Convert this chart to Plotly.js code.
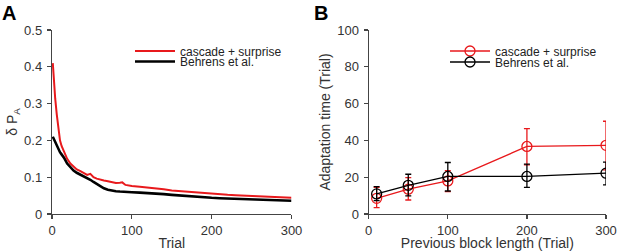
<!DOCTYPE html>
<html>
<head>
<meta charset="utf-8">
<script src="https://cdn.plot.ly/plotly-3.0.1.min.js"></script>
<style>html,body{margin:0;padding:0;background:#fff;}#chart{width:617px;height:251px;}</style>
</head>
<body>
<div id="chart"></div>
<script>
// Panel A: delta P_A vs trial
const trialsA = [1,2,4,6,8,10,12,15,19,23,27,31,35,40,44,48,52,56,60,65,70,75,80,85,88,92,96,100,110,120,130,140,150,160,170,180,190,200,210,220,230,240,250,260,270,280,290,300];
const cascadeA = [0.41,0.37,0.314,0.27,0.232,0.2,0.185,0.168,0.15,0.137,0.128,0.121,0.117,0.112,0.106,0.109,0.1,0.096,0.093,0.091,0.089,0.087,0.084,0.085,0.086,0.079,0.077,0.076,0.074,0.072,0.07,0.067,0.064,0.062,0.06,0.059,0.057,0.055,0.054,0.052,0.051,0.05,0.049,0.048,0.047,0.046,0.045,0.044];
const behrensA = [0.21,0.205,0.196,0.185,0.176,0.168,0.162,0.153,0.137,0.126,0.118,0.112,0.108,0.103,0.099,0.093,0.087,0.081,0.076,0.07,0.066,0.0635,0.062,0.061,0.061,0.06,0.059,0.059,0.058,0.057,0.055,0.054,0.052,0.05,0.049,0.047,0.045,0.044,0.043,0.042,0.041,0.04,0.039,0.038,0.038,0.037,0.037,0.036];

// Panel B: adaptation time vs previous block length
const blockLen = [10,50,100,200,300];
const cascadeB = [8.5,13.5,18,36.7,37.3];
const cascadeBUp = [6,6.3,5.5,9.7,13.1];
const cascadeBDown = [5,5.9,5.8,10,13.3];
const behrensB = [10.9,15.6,20.4,20.4,22.2];
const behrensBUp = [4,6,7.6,6.7,6];
const behrensBDown = [3.6,5.8,7.9,5.9,6.4];

const names = ['cascade + surprise','Behrens et al.'];
const RED = '#e8191c', BLK = '#000000';
const FONT = 'Liberation Sans, Arial, sans-serif';

const traces = [
  {x: trialsA, y: cascadeA, type:'scatter', mode:'lines', name:names[0], line:{color:RED,width:2}, xaxis:'x', yaxis:'y', legend:'legend'},
  {x: trialsA, y: behrensA, type:'scatter', mode:'lines', name:names[1], line:{color:BLK,width:2.6}, xaxis:'x', yaxis:'y', legend:'legend2'},
  {x: blockLen, y: cascadeB, type:'scatter', mode:'lines+markers', name:names[0],
   line:{color:RED,width:1.3}, marker:{symbol:'circle-open',size:10,color:RED,line:{width:1.3}},
   error_y:{type:'data',symmetric:false,array:cascadeBUp,arrayminus:cascadeBDown,color:RED,thickness:1.3,width:3},
   xaxis:'x2', yaxis:'y2', legend:'legend3'},
  {x: blockLen, y: behrensB, type:'scatter', mode:'lines+markers', name:names[1],
   line:{color:BLK,width:1.3}, marker:{symbol:'circle-open',size:10,color:BLK,line:{width:1.3}},
   error_y:{type:'data',symmetric:false,array:behrensBUp,arrayminus:behrensBDown,color:BLK,thickness:1.3,width:3},
   xaxis:'x2', yaxis:'y2', legend:'legend4'}
];

const axisCommon = {
  showgrid:false, zeroline:false, showline:true, linecolor:'#444', linewidth:1.2,
  ticks:'outside', ticklen:4, tickwidth:1.2, tickcolor:'#444',
  tickfont:{family:FONT,size:13,color:'#333'}, automargin:false, fixedrange:true
};

function leg(x, y) {
  return {x:x, y:y, xanchor:'left', yanchor:'middle', bgcolor:'rgba(0,0,0,0)',
    font:{family:FONT,size:12,color:'#222'}, tracegroupgap:0, itemwidth:40, borderwidth:0};
}

const layout = {
  width:617, height:251,
  margin:{l:52,r:11,t:30,b:37},
  paper_bgcolor:'#fff', plot_bgcolor:'#fff',
  font:{family:FONT,color:'#333'},
  xaxis: Object.assign({}, axisCommon, {domain:[0,0.4323], range:[0,300], tickvals:[0,100,200,300],
    title:{text:'Trial', font:{family:FONT,size:14,color:'#333'}, standoff:5}}),
  yaxis: Object.assign({}, axisCommon, {domain:[0,1], range:[0,0.5], tickvals:[0,0.1,0.2,0.3,0.4,0.5], ticklabelstandoff:2,
    title:{text:'δ P<sub>A</sub>', font:{family:FONT,size:14,color:'#333'}, standoff:3}}),
  xaxis2: Object.assign({}, axisCommon, {domain:[0.5717,1], range:[0,300], tickvals:[0,100,200,300], anchor:'y2',
    title:{text:'Previous block length (Trial)', font:{family:FONT,size:14,color:'#333'}, standoff:5}}),
  yaxis2: Object.assign({}, axisCommon, {domain:[0,1], range:[0,100], tickvals:[0,20,40,60,80,100], anchor:'x2', ticklabelstandoff:2,
    title:{text:'Adaptation time (Trial)', font:{family:FONT,size:14,color:'#333'}, standoff:3}}),
  legend: leg(0.1408, 0.886),
  legend2: leg(0.1408, 0.829),
  legend3: leg(0.7094, 0.886),
  legend4: leg(0.7094, 0.826),
  annotations:[
    {text:'<b>A</b>', xref:'paper', yref:'paper', x:-0.094, y:1.165, xanchor:'left', yanchor:'top', showarrow:false, font:{family:FONT,size:20,color:'#000'}},
    {text:'<b>B</b>', xref:'paper', yref:'paper', x:0.47, y:1.165, xanchor:'left', yanchor:'top', showarrow:false, font:{family:FONT,size:20,color:'#000'}}
  ],
  showlegend:true
};

Plotly.newPlot('chart', traces, layout, {staticPlot:true, displayModeBar:false});
</script>
</body>
</html>
